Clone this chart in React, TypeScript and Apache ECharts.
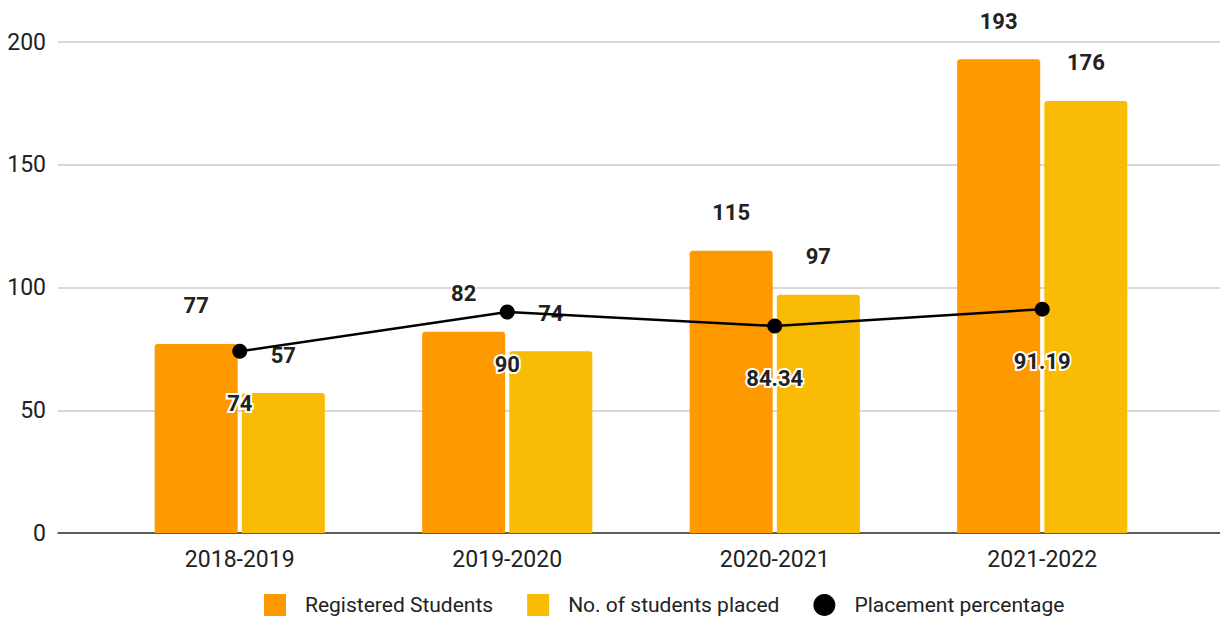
import React, { useEffect, useRef } from "react";
import * as echarts from "echarts";

const categories = ["2018-2019", "2019-2020", "2020-2021", "2021-2022"];
const registered = [77, 82, 115, 193];
const placed = [57, 74, 97, 176];
const percentage = [74, 90, 84.34, 91.19];
const yTicks = [0, 50, 100, 150, 200];

const FONT = "Roboto, 'Noto Sans', sans-serif";

export default function App() {
  const ref = useRef<HTMLDivElement>(null);
  useEffect(() => {
    if (!ref.current) return;
    const chart = echarts.init(ref.current, undefined, { renderer: "svg" });
    const barLabel = {
      show: true,
      position: "top",
      distance: 27,
      color: "#222",
      fontFamily: FONT,
      fontWeight: "bold",
      fontSize: 22,
      textBorderColor: "#fff",
      textBorderWidth: 3,
    };
    chart.setOption({
      animation: false,
      backgroundColor: "#fff",
      textStyle: { fontFamily: FONT },
      grid: [
        { left: 58, right: 0, top: 42, bottom: 89, containLabel: false },
        { left: 106, right: 44, top: 42, bottom: 89, containLabel: false },
      ],
      legend: {
        bottom: 1,
        left: 259,
        itemWidth: 22,
        itemHeight: 22,
        itemGap: 34,
        textStyle: { fontFamily: FONT, fontSize: 21, color: "#222", padding: [0, 0, 0, 14] },
        data: [
          { name: "Registered Students", icon: "rect" },
          { name: "No. of students placed", icon: "rect" },
          { name: "Placement percentage", icon: "circle" },
        ],
      },
      xAxis: [
        {
          gridIndex: 0,
          type: "value",
          min: 0,
          max: 1,
          axisLabel: { show: false },
          axisTick: { show: false },
          splitLine: { show: false },
          axisLine: { show: true, lineStyle: { color: "#333", width: 1.5 } },
        },
        {
          gridIndex: 1,
          type: "category",
          data: categories,
          axisLine: { show: false },
          axisTick: { show: false },
          axisLabel: { color: "#222", fontSize: 23, fontFamily: FONT, margin: 15 },
        },
      ],
      yAxis: [
        {
          gridIndex: 0,
          type: "value",
          min: yTicks[0],
          max: yTicks[yTicks.length - 1],
          interval: 50,
          axisLine: { show: false },
          axisTick: { show: false },
          axisLabel: { color: "#222", fontSize: 23, fontFamily: FONT, margin: 12 },
          splitLine: { lineStyle: { color: "#ccc", width: 1.5 } },
        },
        {
          gridIndex: 1,
          type: "value",
          min: yTicks[0],
          max: yTicks[yTicks.length - 1],
          show: false,
          splitLine: { show: false },
        },
      ],
      series: [
        {
          name: "Registered Students",
          type: "bar",
          xAxisIndex: 1,
          yAxisIndex: 1,
          data: registered,
          barWidth: 83,
          barGap: "5%",
          itemStyle: { color: "#FF9900", borderRadius: [3, 3, 0, 0] },
          label: barLabel,
        },
        {
          name: "No. of students placed",
          type: "bar",
          xAxisIndex: 1,
          yAxisIndex: 1,
          data: placed,
          barWidth: 83,
          barGap: "5%",
          itemStyle: { color: "#F9BB03", borderRadius: [3, 3, 0, 0] },
          label: barLabel,
        },
        {
          name: "Placement percentage",
          type: "line",
          xAxisIndex: 1,
          yAxisIndex: 1,
          data: percentage,
          symbol: "circle",
          symbolSize: 15,
          lineStyle: { color: "#000", width: 2.5 },
          itemStyle: { color: "#000" },
          label: {
            show: true,
            position: "bottom",
            distance: 34,
            color: "#222",
            fontFamily: FONT,
            fontWeight: "bold",
            fontSize: 22,
            textBorderColor: "#fff",
            textBorderWidth: 4,
          },
          z: 5,
        },
      ],
    });
    return () => chart.dispose();
  }, []);
  return (
    <div
      ref={ref}
      style={{ position: "fixed", left: 0, top: 0, width: 1220, height: 622 }}
    />
  );
}
